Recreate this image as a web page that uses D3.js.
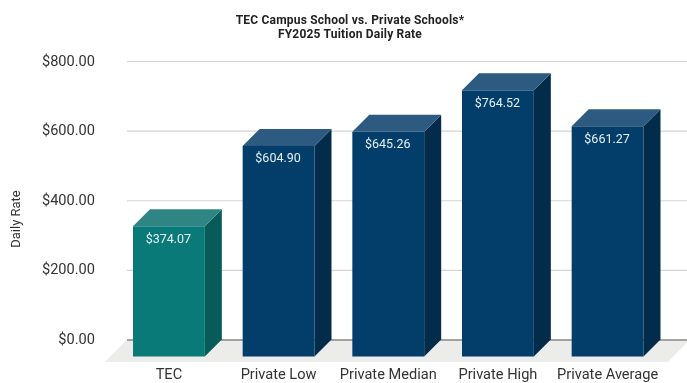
<!DOCTYPE html>
<html>
<head>
<meta charset="utf-8">
<script src="https://cdn.jsdelivr.net/npm/d3@7"></script>
<style>
  html, body { margin: 0; padding: 0; background: #fff; }
  text { font-family: Roboto, sans-serif; }
  #chart { filter: blur(0.35px); }
</style>
</head>
<body>
<svg id="chart" width="687" height="383"></svg>
<script>
const categories = ['TEC', 'Private Low', 'Private Median', 'Private High', 'Private Average'];
const rates = [374.07, 604.90, 645.26, 764.52, 661.27];
const yTicks = [0, 200, 400, 600, 800];
const titleLines = ['TEC Campus School vs. Private Schools*', 'FY2025 Tuition Daily Rate'];

const svg = d3.select('#chart');
const depth = 17;
const depthX = 17;
const floorY = 339.5;

const x = d3.scaleBand().domain(categories).range([133, 643.5]).paddingInner(0.345);
const y = d3.scaleLinear().domain([0, 800]).range([floorY, 61]);
const money = d3.format('$,.2f');

// gray floor behind the bars, slanted on both ends
svg.append('path')
    .attr('d', d3.line()([[127, floorY], [690, floorY], [668, floorY + depth + 5.5], [105, floorY + depth + 5.5]]) + 'Z')
    .attr('fill', '#ececeb');

// y axis + gridlines
const yAxis = svg.append('g')
    .attr('transform', 'translate(127,0)')
    .call(d3.axisLeft(y).tickValues(yTicks).tickFormat(money).tickSize(0).tickPadding(32));
yAxis.select('.domain').remove();
yAxis.selectAll('text')
    .attr('font-size', 14.6)
    .attr('dy', '0.28em')
    .attr('fill', '#333')
    .style('font-family', 'Roboto, sans-serif');
yAxis.selectAll('.tick line')
    .attr('x2', 560)
    .attr('stroke', (d) => d === 0 ? '#555' : '#d4d4d4')
    .attr('stroke-width', 1.2);

// bars: value sits on the back edge, front face comes forward by depth
const bar = svg.selectAll('.bar')
    .data(categories)
    .enter()
    .append('g')
    .attr('class', 'bar');

const colors = (i) => i === 0
    ? { front: '#0a7a78', side: '#075c59', top: '#2f8584' }
    : { front: '#033e6b', side: '#022c4a', top: '#2d5a80' };

const bw = x.bandwidth();
bar.append('path')
    .attr('d', (d, i) => {
        const l = x(d), top = y(rates[i]) + depth;
        return d3.line()([[l + bw, top], [l + bw + depthX, top - depth], [l + bw + depthX, floorY], [l + bw, floorY + depth]]) + 'Z';
    })
    .attr('fill', (d, i) => colors(i).side);
bar.append('path')
    .attr('d', (d, i) => {
        const l = x(d), top = y(rates[i]) + depth;
        return d3.line()([[l, top], [l + depthX, top - depth], [l + bw + depthX, top - depth], [l + bw, top]]) + 'Z';
    })
    .attr('fill', (d, i) => colors(i).top);
bar.append('rect')
    .attr('x', (d) => x(d))
    .attr('y', (d, i) => y(rates[i]) + depth)
    .attr('width', bw)
    .attr('height', (d, i) => floorY - y(rates[i]))
    .attr('fill', (d, i) => colors(i).front);

bar.append('text')
    .text((d, i) => money(rates[i]))
    .attr('x', (d) => x(d) + bw / 2 - 0.5)
    .attr('y', (d, i) => y(rates[i]) + depth + 16.5)
    .attr('text-anchor', 'middle')
    .attr('font-size', 12.5)
    .attr('fill', '#e6f0f5');

// category labels
svg.append('g')
    .selectAll('text')
    .data(categories)
    .enter()
    .append('text')
    .text((d) => d)
    .attr('x', (d) => x(d) + bw / 2)
    .attr('y', 379)
    .attr('text-anchor', 'middle')
    .attr('font-size', 14.6)
    .attr('fill', '#333');

// title
svg.append('g')
    .selectAll('text')
    .data(titleLines)
    .enter()
    .append('text')
    .text((d) => d)
    .attr('x', 350)
    .attr('y', (d, i) => 23.5 + i * 14)
    .attr('text-anchor', 'middle')
    .attr('font-size', 12)
    .attr('letter-spacing', 0.2)
    .attr('font-weight', 700)
    .attr('fill', '#222');

svg.append('text')
    .text('Daily Rate')
    .attr('transform', 'translate(20,219) rotate(-90)')
    .attr('text-anchor', 'middle')
    .attr('font-size', 13)
    .attr('fill', '#333');
</script>
</body>
</html>
